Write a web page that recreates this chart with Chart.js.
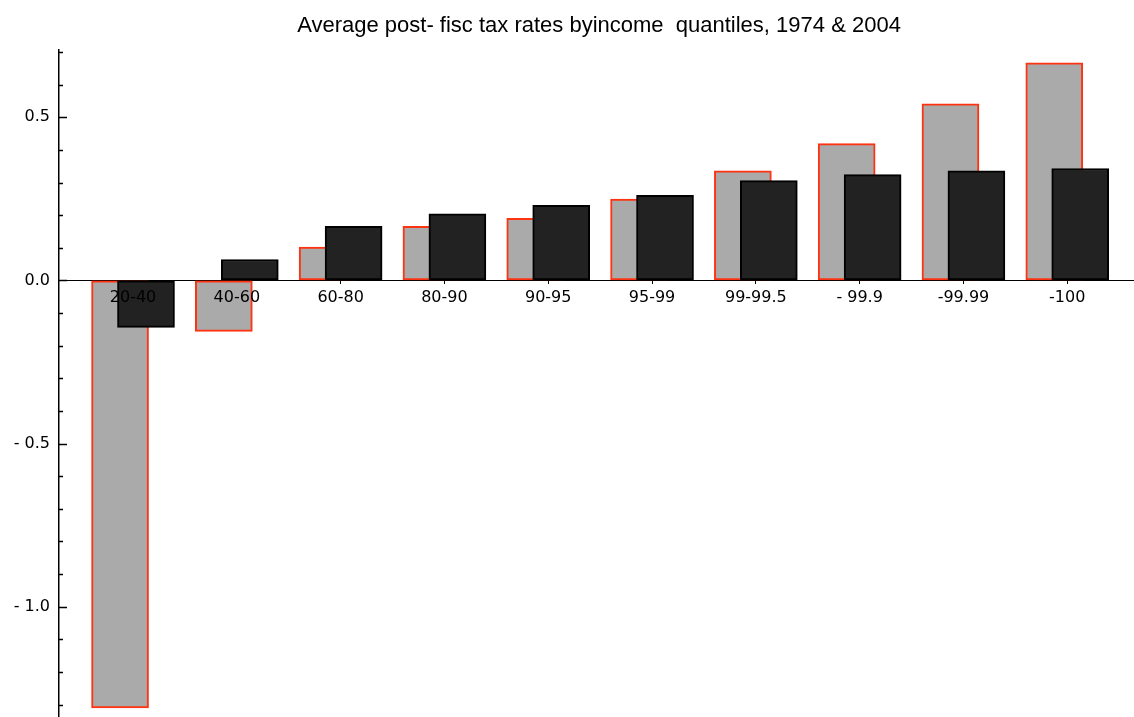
<!DOCTYPE html>
<html>
<head>
<meta charset="utf-8">
<script src="https://cdn.jsdelivr.net/npm/chart.js@4/dist/chart.umd.min.js"></script>
<style>
  html, body { margin: 0; padding: 0; background: #fff; }
  #wrap { width: 1134px; height: 717px; }
</style>
</head>
<body>
<div id="wrap"><canvas id="taxChart" width="1134" height="717"></canvas></div>
<script>
var quantiles = ["20-40", "40-60", "60-80", "80-90", "90-95", "95-99", "99-99.5", "- 99.9", "-99.99", "-100"];
var rates1974 = [-1.31, -0.156, 0.102, 0.166, 0.19, 0.249, 0.336, 0.419, 0.541, 0.667];
var rates2004 = [-0.144, 0.064, 0.166, 0.204, 0.23, 0.261, 0.306, 0.324, 0.336, 0.343];
var yLabelTicks = [-1.0, -0.5, 0.0, 0.5];

// bars of each year sit a bit left / right of the category position
var shift = 0.125;
var pts1974 = [], pts2004 = [];
for (var i in quantiles) {
  pts1974.push({x: +i + 1 - shift, y: rates1974[i]});
  pts2004.push({x: +i + 1 + shift, y: rates2004[i]});
}

// mathematica style ticks: pointing inward, minor every 0.1
var innerTicks = {
  id: 'innerTicks',
  afterLayout: function(chart) {
    // centre the title over the plot, not the whole canvas
    if (chart.titleBlock) chart.titleBlock.left = chart.chartArea.left + 5;
  },
  afterDatasetsDraw: function(chart) {
    var ctx = chart.ctx, ys = chart.scales.y;
    var x0 = ys.right;
    ctx.save();
    ctx.strokeStyle = '#000';
    ctx.lineWidth = 1.5;
    for (var k = -13; k <= 7; k++) {
      var py = Math.round(ys.getPixelForValue(k / 10)) + 0.5;
      var len = (k % 5 === 0) ? 8 : 4;
      ctx.beginPath();
      ctx.moveTo(x0, py);
      ctx.lineTo(x0 + len, py);
      ctx.stroke();
    }
    ctx.restore();
  }
};

var ctx = document.getElementById('taxChart');
var chart = new Chart(ctx, {
  type: 'bar',
  data: {
    datasets: [
      {
        label: '2004',
        data: pts2004,
        backgroundColor: '#222222',
        borderColor: '#000000',
        borderWidth: 2,
        borderSkipped: false,
        barThickness: 57,
        order: 0
      },
      {
        label: '1974',
        data: pts1974,
        backgroundColor: '#aaaaaa',
        borderColor: '#ff3311',
        borderWidth: 2,
        borderSkipped: false,
        barThickness: 57,
        order: 1
      }
    ]
  },
  options: {
    responsive: false,
    animation: false,
    grouped: false,
    layout: { padding: 0 },
    plugins: {
      legend: { display: false },
      tooltip: { enabled: false },
      title: {
        display: true,
        text: 'Average post- fisc tax rates byincome  quantiles, 1974 & 2004',
        color: '#000',
        font: { family: '"Liberation Sans Narrow", "Liberation Sans", Arial, sans-serif', size: 22, weight: 'normal' },
        padding: { top: 13, bottom: 10 }
      }
    },
    scales: {
      x: {
        type: 'linear',
        position: { y: 0 },
        offset: false,
        min: 0.287,
        max: 10.643,
        afterBuildTicks: function(s) {
          s.ticks = quantiles.map(function(q, j) { return {value: j + 1}; });
        },
        afterFit: function(s) { s.paddingLeft = 0; s.paddingRight = 0; },
        ticks: {
          z: 1,
          autoSkip: false,
          maxRotation: 0,
          color: '#000',
          padding: 5,
          font: { family: '"DejaVu Sans", sans-serif', size: 16 },
          callback: function(v, idx) { return quantiles[idx]; }
        },
        grid: { offset: false, drawOnChartArea: false, drawTicks: true, tickLength: 3, color: '#000' },
        border: { display: true, color: '#000', width: 1 }
      },
      y: {
        type: 'linear',
        min: -1.338,
        max: 0.708,
        afterBuildTicks: function(s) {
          s.ticks = yLabelTicks.map(function(v) { return {value: v}; });
        },
        afterFit: function(s) { s.width = 59; s.paddingTop = 0; s.paddingBottom = 0; },
        ticks: {
          color: '#000',
          padding: 9,
          font: { family: '"DejaVu Sans", sans-serif', size: 16 },
          callback: function(v) {
            if (v < 0) return '- ' + Math.abs(v).toFixed(1);
            return Math.abs(v).toFixed(1);
          }
        },
        grid: { drawOnChartArea: false, drawTicks: false },
        border: { display: true, color: '#000', width: 1.5 }
      }
    }
  },
  plugins: [innerTicks]
});
</script>
</body>
</html>
